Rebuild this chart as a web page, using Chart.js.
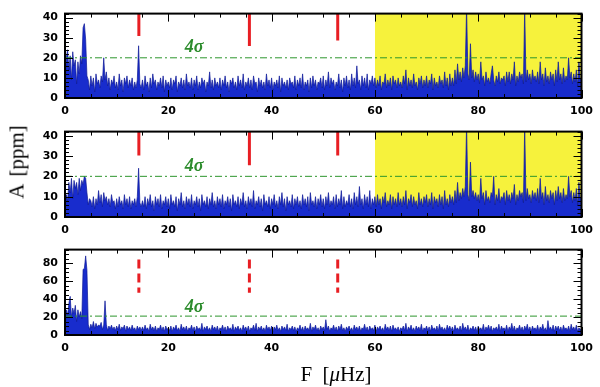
<!DOCTYPE html>
<html>
<head>
<meta charset="utf-8">
<script src="https://cdn.jsdelivr.net/npm/chart.js@4.4.0/dist/chart.umd.min.js"></script>
<style>
body{margin:0;background:#fff;width:600px;height:387px;position:relative;overflow:hidden}
canvas{position:absolute;left:0}
#c1{top:0}
#c2{top:118px}
#c3{top:236px}
.ytitle{position:absolute;left:17px;top:162px;transform:translate(-50%,-50%) rotate(-90deg);font:21px "Liberation Serif";white-space:nowrap;word-spacing:3px}
.xtitle{position:absolute;left:336px;top:374px;transform:translate(-50%,-50%);font:21px "Liberation Serif";white-space:nowrap;word-spacing:5px}
</style>
</head>
<body>
<canvas id="c1" width="600" height="118"></canvas>
<canvas id="c2" width="600" height="118"></canvas>
<canvas id="c3" width="600" height="151"></canvas>
<div class="ytitle">A [ppm]</div>
<div class="xtitle">F [<i>μ</i>Hz]</div>
<script>
// frequency grid step (μHz)
var freqStep = 0.25;

// amplitude spectra (ppm), one value every 0.25 μHz from 0 to 100
var amp1 = [
 3,20,24,14,21,9,23,16,19,7,18,12,21,17,35,37,29,11,9,4,
 11,6,10,3,12,7,9,5,11,8,20,9,13,6,10,4,9,7,11,5,
 8,4,12,6,9,3,10,7,11,5,9,6,10,4,8,5,9,26,7,5,
 9,4,11,6,8,3,10,5,12,7,9,4,8,6,10,5,11,3,9,6,
 8,5,10,4,9,7,11,3,8,6,10,5,9,4,12,6,8,5,10,4,
 9,6,11,4,8,5,10,7,9,3,8,6,13,5,9,4,10,6,8,5,
 10,4,9,6,11,5,8,3,9,7,10,5,8,4,11,6,9,5,12,4,
 8,6,10,5,9,4,11,7,8,3,10,6,9,5,8,4,12,6,9,5,
 10,4,8,6,9,5,11,3,10,6,8,5,9,4,10,7,8,5,11,4,
 9,6,10,5,12,4,8,6,9,3,10,5,11,6,9,4,8,7,10,5,
 11,4,9,6,13,5,10,7,9,4,8,6,12,5,9,3,10,6,11,5,
 9,4,12,6,10,5,16,7,9,4,11,6,10,5,12,4,9,7,11,6,
 10,5,9,6,11,4,8,7,12,5,9,6,10,4,11,7,9,5,10,6,
 8,5,11,7,14,4,10,6,9,5,12,6,8,4,10,7,11,5,9,6,
 11,5,9,7,12,4,10,6,8,5,11,7,9,5,13,6,10,4,12,6,
 10,6,14,7,17,9,13,8,15,10,16,45,12,9,27,10,14,8,13,9,
 12,7,18,9,11,6,13,8,10,7,12,16,9,6,11,8,13,7,10,9,
 11,6,13,8,13,7,12,9,18,6,11,8,13,10,12,7,45,8,14,9,
 12,7,14,9,11,8,13,7,18,9,12,6,15,8,11,7,13,9,12,6,
 14,8,18,9,12,7,15,8,11,9,20,10,13,7,12,8,14,6,18,9,
 10
];
var amp2 = [
 2,11,8,17,12,19,9,18,14,17,11,19,13,18,16,20,19,12,6,9,
 8,5,10,4,9,6,13,7,11,5,12,8,10,6,9,5,11,7,8,4,
 9,5,10,6,8,4,11,6,9,5,10,4,8,6,9,5,10,24,7,5,
 8,5,10,4,9,6,11,5,8,3,10,6,9,5,11,4,8,6,10,5,
 9,4,11,6,8,5,10,3,9,6,12,5,8,4,10,6,9,5,11,4,
 8,6,10,5,9,3,11,6,8,5,10,4,9,6,12,5,8,4,10,6,
 9,5,11,4,8,6,10,5,9,3,11,6,8,5,10,4,9,6,12,5,
 8,4,10,6,9,5,13,4,8,6,10,5,9,3,11,6,8,5,10,4,
 9,6,11,5,8,4,10,6,12,5,9,3,10,6,8,5,11,4,9,6,
 10,5,8,4,11,6,9,5,10,3,12,6,8,5,10,4,9,6,11,5,
 9,4,10,6,12,5,8,6,10,4,11,5,9,6,13,4,10,5,8,6,
 11,5,9,4,12,6,10,5,15,6,9,4,11,6,10,5,13,4,9,6,
 10,5,11,6,9,4,10,7,12,5,8,6,11,4,10,6,9,5,12,6,
 9,5,10,6,13,4,9,7,11,5,10,6,8,4,12,6,9,5,10,7,
 11,5,9,6,12,4,10,7,9,5,11,6,10,4,13,6,9,5,11,7,
 10,6,13,7,17,8,12,9,14,10,15,45,11,8,27,10,13,9,12,8,
 11,7,19,9,12,6,13,8,10,7,12,10,20,6,11,8,14,7,10,9,
 12,6,13,8,11,7,12,9,16,6,11,8,13,10,12,7,45,8,14,9,
 11,7,13,9,12,8,14,7,19,9,12,6,15,8,11,7,13,9,12,6,
 13,8,15,9,12,7,14,8,11,9,20,10,13,7,12,8,14,6,17,9,
 10
];
var amp3 = [
 5,28,22,35,43,20,30,24,33,15,28,20,26,18,73,74,88,72,12,6,
 12,8,15,7,13,9,11,10,14,6,11,38,12,5,10,7,11,6,9,5,
 10,6,12,5,9,7,11,4,10,6,9,5,11,6,8,4,10,6,9,5,
 9,5,11,6,8,4,12,6,9,5,10,4,8,6,11,5,9,4,10,6,
 8,5,10,4,9,6,11,5,8,4,12,6,9,5,10,4,8,6,11,5,
 9,4,10,6,8,5,13,4,9,6,10,5,8,4,11,6,9,5,10,4,
 8,6,11,5,9,4,10,6,8,5,12,4,9,6,10,5,8,4,11,6,
 9,5,10,4,8,6,11,5,13,4,9,6,10,5,8,4,11,6,9,5,
 10,4,9,6,11,5,8,4,10,6,9,5,12,4,8,6,10,5,9,4,
 8,6,11,5,9,4,10,6,8,5,13,4,9,6,11,5,8,4,10,6,
 9,5,17,6,10,4,8,6,11,5,9,4,10,6,12,5,8,4,9,6,
 10,5,8,4,11,6,9,5,10,4,8,6,12,5,9,4,10,6,8,5,
 11,4,9,6,10,5,8,4,12,6,9,5,10,4,11,6,8,5,9,4,
 8,6,10,5,13,4,9,6,11,5,8,4,10,6,9,5,12,4,8,6,
 10,5,9,4,11,6,8,5,10,4,12,6,9,5,8,4,11,6,10,5,
 9,4,11,6,8,5,10,4,13,6,9,5,11,4,8,6,10,5,9,4,
 10,6,8,5,12,4,9,6,11,5,10,4,8,6,9,5,12,4,10,6,
 8,5,11,4,9,6,13,5,10,4,8,6,11,5,9,4,10,6,12,5,
 9,4,10,6,8,5,11,4,9,6,12,5,8,4,16,6,9,5,11,4,
 10,6,10,5,9,4,11,6,8,5,10,4,12,6,9,5,11,4,8,6,
 7
];

// 4 sigma levels (ppm)
var sigma4 = [20, 20, 21];
// highlighted band (μHz), panels 1 and 2
var shadeBand = [60, 100];
// marked frequencies (μHz) and the amplitude range of each mark
var markFreqs = [14.3, 35.7, 52.8];
var markTop1 = [42, 42, 42], markBottom1 = [30.8, 25.9, 28.6];
var markTop2 = [42, 42, 42], markBottom2 = [30.3, 25.5, 30.3];
var markTop3 = [84, 84, 84], markBottom3 = [47, 47, 47];
// y axis ranges
var yMax = [42, 42, 95];

Chart.defaults.color = '#000';
Chart.defaults.font.family = '"DejaVu Sans"';
Chart.defaults.font.weight = 'bold';
Chart.defaults.font.size = 11;

function pts(arr) {
  return arr.map(function(v, i){ return {x: i * freqStep, y: v}; });
}

var framePlugin = {
  id: 'frame',
  afterDatasetsDraw: function(chart, args, o) {
    var ctx = chart.ctx, a = chart.chartArea, x = chart.scales.x, y = chart.scales.y;
    ctx.save();
    ctx.strokeStyle = '#000';
    ctx.lineWidth = 1;
    ctx.beginPath();
    x.ticks.forEach(function(t){
      var px = Math.round(x.getPixelForValue(t.value)) + 0.5;
      var len = t.value % 20 === 0 ? 8 : 4;
      ctx.moveTo(px, a.bottom); ctx.lineTo(px, a.bottom - len);
      ctx.moveTo(px, a.top); ctx.lineTo(px, a.top + len);
    });
    y.ticks.forEach(function(t){
      var py = Math.round(y.getPixelForValue(t.value)) + 0.5;
      var len = t.value % o.majorY === 0 ? 8 : 4;
      ctx.moveTo(a.left, py); ctx.lineTo(a.left + len, py);
      ctx.moveTo(a.right, py); ctx.lineTo(a.right - len, py);
    });
    ctx.stroke();
    ctx.lineWidth = 2;
    ctx.strokeRect(a.left, a.top, a.right - a.left, a.bottom - a.top);
    ctx.font = 'italic bold 18px "Liberation Serif"';
    ctx.fillStyle = 'rgb(45,140,45)';
    ctx.textAlign = 'center';
    ctx.textBaseline = 'middle';
    ctx.fillText('4σ', x.getPixelForValue(o.labelX), y.getPixelForValue(o.labelY));
    ctx.restore();
  }
};

function makePanel(id, amp, sig, tops, bottoms, ymax, opt) {
  var ds = [];
  if (opt.shade) {
    ds.push({data: [{x: shadeBand[0], y: ymax}, {x: shadeBand[1], y: ymax}],
      fill: 'origin', backgroundColor: 'rgb(246,242,60)', borderWidth: 0, pointRadius: 0, order: 5});
  }
  ds.push({data: pts(amp), fill: 'origin', backgroundColor: 'rgb(24,44,205)',
    borderColor: 'rgb(14,26,150)', borderWidth: 0.7, pointRadius: 0, order: 3});
  ds.push({data: [{x: 0, y: sig}, {x: 100, y: sig}], borderColor: 'rgb(45,150,45)',
    borderWidth: 1, borderDash: [7, 3, 2, 3], pointRadius: 0, order: 2});
  markFreqs.forEach(function(f, i){
    ds.push({data: [{x: f, y: tops[i]}, {x: f, y: bottoms[i]}], borderColor: 'rgb(232,30,35)',
      borderWidth: 3, borderDash: opt.dashed ? [9, 5] : [], pointRadius: 0, order: 1});
  });
  return new Chart(document.getElementById(id), {
    type: 'line',
    data: {datasets: ds},
    plugins: [framePlugin],
    options: {
      responsive: false,
      animation: false,
      devicePixelRatio: 1,
      layout: {padding: {top: opt.top, right: 14, left: 0, bottom: 0}},
      plugins: {legend: {display: false}, tooltip: {enabled: false},
        frame: {majorY: opt.majorY, labelX: 25, labelY: opt.labelY}},
      scales: {
        x: {type: 'linear', min: 0, max: 100,
          grid: {display: false, drawTicks: false}, border: {display: false},
          ticks: {stepSize: 5, autoSkip: false, maxRotation: 0, padding: 7,
            callback: function(v){ return v % 20 === 0 ? v : ''; }},
          afterFit: function(s){ s.height = opt.xh; }},
        y: {min: 0, max: ymax,
          grid: {display: false, drawTicks: false}, border: {display: false},
          ticks: {stepSize: opt.minorY, autoSkip: false, padding: 7,
            callback: function(v){ return v % opt.majorY === 0 ? v : ''; }},
          afterFit: function(s){ s.width = 65; }}
      }
    }
  });
}

makePanel('c1', amp1, sigma4[0], markTop1, markBottom1, yMax[0],
  {shade: true, dashed: false, top: 4, xh: 20, majorY: 10, minorY: 2, labelY: 25});
makePanel('c2', amp2, sigma4[1], markTop2, markBottom2, yMax[1],
  {shade: true, dashed: false, top: 5, xh: 19, majorY: 10, minorY: 2, labelY: 25});
makePanel('c3', amp3, sigma4[2], markTop3, markBottom3, yMax[2],
  {shade: false, dashed: true, top: 5, xh: 52, majorY: 20, minorY: 5, labelY: 31});
</script>
</body>
</html>
